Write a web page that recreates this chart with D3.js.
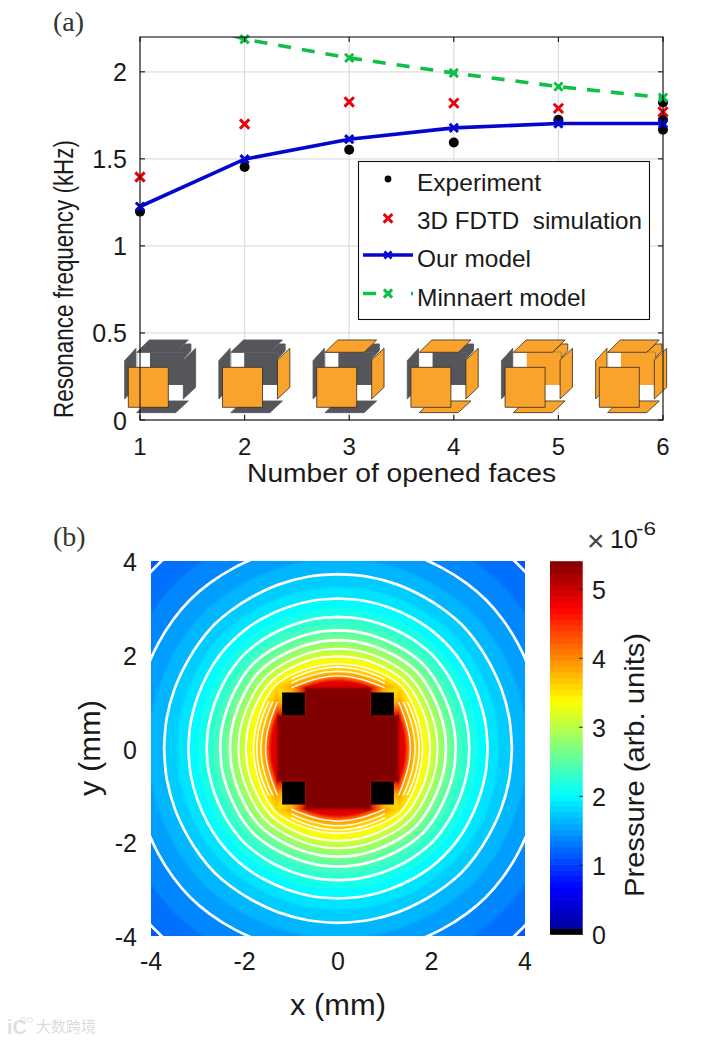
<!DOCTYPE html>
<html><head><meta charset="utf-8">
<script src="https://cdn.jsdelivr.net/npm/d3@7"></script>
<style>
html,body{margin:0;padding:0;background:#fff}
svg{display:block}
text{font-family:"Liberation Sans",Arial,sans-serif;fill:#1a1a1a}
.serif{font-family:"Liberation Serif",serif;fill:#333}
</style></head><body>
<svg id="c" width="718" height="1040"></svg>
<script>
// ---------- panel (a) data ----------
const facesOpened = [1,2,3,4,5,6];
const yTicksA = [0,0.5,1,1.5,2];
const experimentX = [1,2,3,4,5,6,6,6];
const experimentY = [1.197,1.453,1.552,1.594,1.725,1.824,1.724,1.667];
const simulationY = [1.396,1.70,1.827,1.82,1.79,1.77];
const ourModelY   = [1.226,1.498,1.613,1.678,1.703,1.703];
const minnaertY   = [2.38,2.187,2.08,1.993,1.915,1.852];
const legendLabels = ["Experiment","3D FDTD  simulation","Our model","Minnaert model"];
const legendWidths = [124,225,114,169];
// which faces of each icon are open (orange), cumulative with the count of opened faces
const faceOrder = ["front","right","top","bottom","back","left"];

// ---------- panel (b) data ----------
const ticksB = [-4,-2,0,2,4];
const colorTicks = [0,1,2,3,4,5];
const blockCentres = [-0.95,0.95];
const blockSize = 0.49;
const fieldAngles = [0,10,20,30,38,45]; // degrees away from the nearest axis
const fieldLevels = [1.075,1.2,1.325,1.45,1.575,1.7,1.825,1.95,2.075,2.2,2.325,2.45,2.575,2.7,2.825,2.95,3.075,3.2,3.325,3.45,3.575,3.7,3.825,3.95,4.2,4.45,4.7,5.05,5.4];
const fieldRadii = [
 [6.2,6.2,6.2,6.2,6.2,6.2],
 [5.5,5.5,5.5,5.5,5.5,5.5],
 [4.92,4.92,4.92,4.93,4.94,4.95],
 [4.43,4.43,4.43,4.45,4.47,4.48],
 [4.05,4.05,4.05,4.06,4.07,4.08],
 [3.72,3.72,3.72,3.72,3.73,3.74],
 [3.44,3.44,3.44,3.45,3.46,3.46],
 [3.2,3.2,3.2,3.21,3.22,3.22],
 [3.0,3.0,3.0,3.01,3.02,3.02],
 [2.81,2.81,2.81,2.82,2.83,2.84],
 [2.65,2.65,2.65,2.66,2.67,2.68],
 [2.52,2.52,2.52,2.53,2.55,2.56],
 [2.41,2.41,2.41,2.42,2.44,2.45],
 [2.31,2.31,2.31,2.32,2.34,2.35],
 [2.22,2.22,2.22,2.23,2.25,2.26],
 [2.13,2.13,2.13,2.14,2.16,2.17],
 [2.05,2.05,2.05,2.06,2.08,2.09],
 [1.97,1.97,1.98,1.99,2.01,2.02],
 [1.89,1.89,1.9,1.92,1.95,1.96],
 [1.81,1.81,1.82,1.85,1.88,1.9],
 [1.74,1.74,1.75,1.77,1.8,1.85],
 [1.65,1.65,1.66,1.69,1.73,1.8],
 [1.6,1.6,1.61,1.64,1.68,1.76],
 [1.55,1.55,1.56,1.59,1.64,1.73],
 [1.51,1.51,1.52,1.55,1.6,1.7],
 [1.48,1.48,1.49,1.52,1.58,1.68],
 [1.45,1.46,1.48,1.5,1.55,1.6],
 [1.3,1.32,1.38,1.5,1.53,1.55],
 [1.29,1.31,1.37,1.5,1.52,1.52]
];
const contourLevels = [1.2,1.45,1.7,1.95,2.2,2.45,2.7,2.95,3.2,3.45,3.575,3.7,3.95];
const notchedFrom = 3.5; // contours above this stop short of the blocks' outer corners

const svg = d3.select("#c");
const defs = svg.append("defs");

// ---------- panel (a) ----------
const xA = d3.scaleLinear().domain([1,6]).range([140,663]);
const yA = d3.scaleLinear().domain([0,2.2]).range([420,37]);
defs.append("clipPath").attr("id","clipA").append("rect")
  .attr("x",140).attr("y",37).attr("width",523).attr("height",383);
const a = svg.append("g");
a.append("g").selectAll("line").data(facesOpened).join("line")
  .attr("x1",d=>xA(d)).attr("x2",d=>xA(d)).attr("y1",37).attr("y2",420)
  .attr("stroke","#dedede").attr("stroke-width",1.3);
a.append("g").selectAll("line").data(yTicksA).join("line")
  .attr("x1",140).attr("x2",663).attr("y1",d=>yA(d)).attr("y2",d=>yA(d))
  .attr("stroke","#dedede").attr("stroke-width",1.3);

const crossPath = s => d3.symbol(d3.symbolX, s)();
a.append("g").selectAll("circle").data(experimentX).join("circle")
  .attr("cx",d=>xA(d)).attr("cy",(d,i)=>yA(experimentY[i])).attr("r",5).attr("fill","#050505");
a.append("g").selectAll("path").data(simulationY).join("path")
  .attr("transform",(d,i)=>`translate(${xA(facesOpened[i])},${yA(d)})`)
  .attr("d",crossPath(58)).attr("stroke","#e8000b").attr("stroke-width",3).attr("fill","none");

const lineA = d3.line().x((d,i)=>xA(facesOpened[i])).y(d=>yA(d));
a.append("path").datum(ourModelY).attr("d",lineA).attr("clip-path","url(#clipA)")
  .attr("fill","none").attr("stroke","#0505d0").attr("stroke-width",3.6);
a.append("g").selectAll("path").data(ourModelY).join("path")
  .attr("transform",(d,i)=>`translate(${xA(facesOpened[i])},${yA(d)})`)
  .attr("d",crossPath(46)).attr("stroke","#0505d0").attr("stroke-width",3).attr("fill","none");
a.append("path").datum(minnaertY).attr("d",lineA).attr("clip-path","url(#clipA)")
  .attr("fill","none").attr("stroke","#10bf48").attr("stroke-width",3.6).attr("stroke-dasharray","13 11");
a.append("g").selectAll("path").data(minnaertY.slice(1)).join("path")
  .attr("transform",(d,i)=>`translate(${xA(facesOpened[i+1])},${yA(d)})`)
  .attr("d",crossPath(46)).attr("stroke","#10bf48").attr("stroke-width",3).attr("fill","none");

// cube icons
const iconX = d3.scaleLinear().domain([1,6]).range([128.3,599.3]);
const u = v => v/3;
const ORANGE="#f9a22c", DARK="#55565b", EDGE="#33291c";
function poly(g,pts,fill,stroke){
  g.append("polygon").attr("points",pts.map(p=>[u(p[0]-55),u(p[1]-112)].join(",")).join(" "))
   .attr("fill",fill).attr("stroke",stroke||"none").attr("stroke-width",stroke?0.8:0);
}
facesOpened.forEach(n=>{
  const open = new Set(faceOrder.slice(0,n));
  const col = f => open.has(f)?ORANGE:DARK;
  const stroke = f => open.has(f)?EDGE:DARK;
  const g = a.append("g").attr("transform",`translate(${iconX(n)},367.3)`);
  poly(g,[[44,92],[78,55],[78,172],[44,207]],col("left"),stroke("left"));
  // back wall with its two openings
  poly(g,[[197,67],[225,42],[243,42],[243,62],[222,85],[222,67]],col("back"),stroke("back"));
  poly(g,[[82,67],[222,67],[222,166],[82,166]],col("back"));
  poly(g,[[82,68],[120,68],[120,112],[82,112]],"#fff");
  poly(g,[[175,165],[220,165],[220,212],[175,212]],"#fff");
  poly(g,[[118,30],[235,30],[197,67],[80,67]],col("top"),stroke("top"));
  poly(g,[[115,213],[235,213],[197,248],[80,248]],col("bottom"),stroke("bottom"));
  poly(g,[[220,90],[257,55],[257,172],[220,207]],col("right"),stroke("right"));
  poly(g,[[55,112],[175,112],[175,232],[55,232]],ORANGE,EDGE);
});

// frame and ticks
a.append("rect").attr("x",140).attr("y",37).attr("width",523).attr("height",383)
  .attr("fill","none").attr("stroke","#111").attr("stroke-width",1.1);
const tA = a.append("g").attr("stroke","#111").attr("stroke-width",1.1);
facesOpened.forEach(d=>{
  tA.append("line").attr("x1",xA(d)).attr("x2",xA(d)).attr("y1",420).attr("y2",415);
  tA.append("line").attr("x1",xA(d)).attr("x2",xA(d)).attr("y1",37).attr("y2",42);
});
yTicksA.forEach(d=>{
  tA.append("line").attr("x1",140).attr("x2",145).attr("y1",yA(d)).attr("y2",yA(d));
  tA.append("line").attr("x1",663).attr("x2",658).attr("y1",yA(d)).attr("y2",yA(d));
});
a.append("g").selectAll("text").data(facesOpened).join("text")
  .attr("x",d=>xA(d)).attr("y",455).attr("text-anchor","middle").attr("font-size",24).text(d=>d);
a.append("g").selectAll("text").data(yTicksA).join("text")
  .attr("x",127).attr("y",d=>yA(d)+9.5).attr("text-anchor","end").attr("font-size",25).text(d=>d);
a.append("text").attr("x",401.5).attr("y",482).attr("text-anchor","middle").attr("font-size",25)
  .attr("textLength",309).attr("lengthAdjust","spacingAndGlyphs").text("Number of opened faces");
a.append("text").attr("transform","translate(73,279) rotate(-90)").attr("text-anchor","middle").attr("font-size",28)
  .attr("textLength",278).attr("lengthAdjust","spacingAndGlyphs").text("Resonance frequency (kHz)");

// legend
const legendY = d3.scalePoint().domain(legendLabels).range([182,297]);
a.append("rect").attr("x",358.5).attr("y",161.5).attr("width",291).attr("height",158)
  .attr("fill","#fff").attr("stroke","#111").attr("stroke-width",1.1);
a.append("g").selectAll("text").data(legendLabels).join("text")
  .attr("x",417).attr("y",d=>legendY(d)+8.5).attr("font-size",24)
  .attr("textLength",(d,i)=>legendWidths[i]).attr("lengthAdjust","spacingAndGlyphs")
  .attr("xml:space","preserve").style("white-space","pre").text(d=>d);
a.append("circle").attr("cx",388).attr("cy",legendY(legendLabels[0])-3).attr("r",3.4).attr("fill","#050505");
a.append("path").attr("transform",`translate(388,${legendY(legendLabels[1])-2})`)
  .attr("d",crossPath(50)).attr("stroke","#e8000b").attr("stroke-width",3).attr("fill","none");
a.append("line").attr("x1",363).attr("x2",413).attr("y1",255).attr("y2",255).attr("stroke","#0505d0").attr("stroke-width",3.6);
a.append("path").attr("transform","translate(388,255)").attr("d",crossPath(34)).attr("stroke","#0505d0").attr("stroke-width",2.8).attr("fill","none");
a.append("line").attr("x1",363).attr("x2",413).attr("y1",293.5).attr("y2",293.5).attr("stroke","#10bf48").attr("stroke-width",3.6).attr("stroke-dasharray","13 11 4 20 2");
a.append("path").attr("transform","translate(388,293.5)").attr("d",crossPath(46)).attr("stroke","#10bf48").attr("stroke-width",3).attr("fill","none");

a.append("text").attr("class","serif").attr("x",53).attr("y",31).attr("font-size",28).text("(a)");

// ---------- panel (b) ----------
const xB = d3.scaleLinear().domain([-4,4]).range([151,525]);
const yB = d3.scaleLinear().domain([-4,4]).range([936,561]);
const zMax = 5.4;
const jet = d3.scaleLinear().domain([0,.125,.375,.625,.875,1].map(t=>t*zMax))
  .range(["#000090","#0000ff","#00ffff","#ffff00","#ff0000","#800000"]).clamp(true);
defs.append("clipPath").attr("id","clipB").append("rect")
  .attr("x",151).attr("y",561).attr("width",374).attr("height",375);
const cross = defs.append("clipPath").attr("id","clipCross");
cross.append("rect").attr("x",xB(-1)).attr("y",561).attr("width",xB(1)-xB(-1)).attr("height",375);
cross.append("rect").attr("x",151).attr("y",yB(1)).attr("width",374).attr("height",yB(-1)-yB(1));
const blur = defs.append("filter").attr("id","soft").attr("x","-5%").attr("y","-5%").attr("width","110%").attr("height","110%");
blur.append("feGaussianBlur").attr("stdDeviation",1);

// angles around the full circle from the octant table
const oct = fieldAngles.map((a,i)=>({a,i}));
const mirrored = oct.slice(0,-1).reverse().map(o=>({a:90-o.a,i:o.i}));
const quarter = oct.concat(mirrored);
const ring = d3.range(4).flatMap(q=>quarter.map(o=>({a:o.a+90*q,i:o.i})));
const ringLine = d3.line().curve(d3.curveCatmullRomClosed.alpha(0.5));
const ringPath = radii => ringLine(ring.map(p=>{
  const t=p.a*Math.PI/180;
  return [xB(radii[p.i]*Math.cos(t)),yB(radii[p.i]*Math.sin(t))];
}));

const b = svg.append("g");
const heat = b.append("g").attr("clip-path","url(#clipB)");
const bands = heat.append("g").attr("filter","url(#soft)");
bands.append("rect").attr("x",130).attr("y",540).attr("width",416).attr("height",417).attr("fill",jet(1.02));
bands.selectAll("path").data(fieldLevels).join("path")
  .attr("d",(d,i)=>ringPath(fieldRadii[i]))
  .attr("fill",(d,i)=>jet(i<fieldLevels.length-1?(d+fieldLevels[i+1])/2:zMax));

// yellow-to-red halo on the outer sides of each block
const blockPairs = d3.cross(blockCentres,blockCentres);
blockPairs.forEach((p,k)=>{
  const sx=p[0]>0, sy=p[1]>0;
  const gr=defs.append("radialGradient").attr("id","halo"+k)
    .attr("cx",sx?1:0).attr("cy",sy?0:1).attr("r",1);
  gr.append("stop").attr("offset",0).attr("stop-color","#f6f000");
  gr.append("stop").attr("offset",.55).attr("stop-color","#ffb000");
  gr.append("stop").attr("offset",1).attr("stop-color","#e81000");
  const x0=p[0]-blockSize/2, x1=p[0]+blockSize/2, y0=p[1]-blockSize/2, y1=p[1]+blockSize/2, m=0.09;
  bands.append("rect")
    .attr("x",xB(sx?x0:x0-m)).attr("y",yB(sy?y1+m:y1))
    .attr("width",xB(blockSize+m)-xB(0)).attr("height",yB(0)-yB(blockSize+m))
    .attr("fill",`url(#halo${k})`);
});

heat.append("g").selectAll("path").data(contourLevels).join("path")
  .attr("d",d=>ringPath(fieldRadii[fieldLevels.indexOf(d)]))
  .attr("clip-path",d=>d>notchedFrom?"url(#clipCross)":null)
  .attr("fill","none").attr("stroke","#fff").attr("opacity",d=>d>3.6?.9:1)
  .attr("stroke-width",d=>d>3.4?1.5:d>2.9?2:2.7);
heat.append("g").selectAll("rect").data(blockPairs).join("rect")
  .attr("x",d=>xB(d[0]-blockSize/2)).attr("y",d=>yB(d[1]+blockSize/2))
  .attr("width",xB(blockSize)-xB(0)).attr("height",yB(0)-yB(blockSize)).attr("fill","#000");

b.append("g").selectAll("text").data(ticksB).join("text")
  .attr("x",d=>xB(d)).attr("y",970).attr("text-anchor","middle").attr("font-size",25).text(d=>d);
b.append("g").selectAll("text").data(ticksB).join("text")
  .attr("x",137).attr("y",d=>yB(d)+10).attr("text-anchor","end").attr("font-size",25).text(d=>d);
b.append("text").attr("x",338).attr("y",1015).attr("text-anchor","middle").attr("font-size",29)
  .attr("textLength",96).attr("lengthAdjust","spacingAndGlyphs").text("x (mm)");
b.append("text").attr("transform","translate(100,748) rotate(-90)").attr("text-anchor","middle").attr("font-size",29)
  .attr("textLength",96).attr("lengthAdjust","spacingAndGlyphs").text("y (mm)");

// colour bar
const cb = d3.scaleLinear().domain([0,zMax]).range([934.5,561.5]);
const nColors = 64;
const cbBands = d3.range(nColors);
b.append("g").selectAll("rect").data(cbBands).join("rect")
  .attr("x",550).attr("width",32.7)
  .attr("y",i=>cb((i+1)*zMax/nColors)-0.3)
  .attr("height",cb(0)-cb(zMax/nColors)+0.6)
  .attr("fill",i=>i===0?"#000":jet((i+.5)*zMax/nColors));
b.append("g").selectAll("line").data(colorTicks).join("line")
  .attr("x1",579).attr("x2",582.7).attr("y1",d=>cb(d)).attr("y2",d=>cb(d)).attr("stroke","#222").attr("stroke-width",1);
b.append("g").selectAll("text").data(colorTicks).join("text")
  .attr("x",592).attr("y",d=>cb(d)+9.5).attr("font-size",25).text(d=>d);
b.append("text").attr("transform","translate(644,765) rotate(-90)").attr("text-anchor","middle").attr("font-size",28)
  .attr("textLength",264).attr("lengthAdjust","spacingAndGlyphs").text("Pressure (arb. units)");
b.append("text").attr("x",587).attr("y",551).attr("font-size",30).style("fill","#444").text("\u00d7");
b.append("text").attr("x",610).attr("y",548).attr("font-size",25).text("10");
b.append("text").attr("x",636).attr("y",535).attr("font-size",19).attr("textLength",20).attr("lengthAdjust","spacingAndGlyphs").text("-6");
b.append("text").attr("class","serif").attr("x",53).attr("y",546).attr("font-size",28).text("(b)");

// watermark
const w = svg.append("g").attr("opacity",.9);
w.append("text").attr("x",7).attr("y",1034).attr("font-size",20).attr("font-weight","bold").style("fill","#dcdcdc").text("iC");
w.append("circle").attr("cx",23).attr("cy",1020).attr("r",2.5).attr("fill","none").attr("stroke","#dcdcdc");
w.append("circle").attr("cx",30).attr("cy",1020).attr("r",2.5).attr("fill","none").attr("stroke","#dcdcdc");
w.append("text").attr("x",36).attr("y",1032).attr("font-size",15)
  .style("font-family","'Noto Sans CJK SC'").style("fill","#d8d8d8").text("大数跨境");
</script>
</body></html>
